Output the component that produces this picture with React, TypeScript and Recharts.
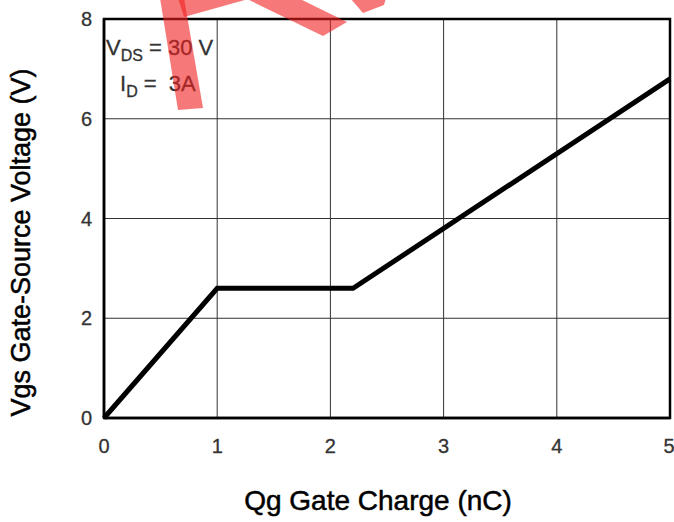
import { LineChart, Line, XAxis, YAxis, CartesianGrid, ReferenceArea } from "recharts"

const charge = [0, 1, 2.2, 5]
const vgs = [0, 2.6, 2.6, 6.8]
const xTicks = [0, 1, 2, 3, 4, 5]
const yTicks = [0, 2, 4, 6, 8]

const data = charge.map((q, i) => ({ q, v: vgs[i] }))

const FONT = "'Liberation Sans', Arial, sans-serif"

// red watermark bits that poke in at the top
const stamp = [
  "160,-2 184,-2 203,108 178,110",
  "178,-2 252,-2 184,17",
  "245,-2 298,-2 347,22 323,36",
  "350,-2 386,-2 384,5 363,13",
]

// axis label viewBox is the axis strip itself
function YTitle({ viewBox }: any) {
  const x = viewBox.x + 21
  const y = viewBox.y + viewBox.height / 2 + 24
  return (
    <text x={x} y={y} transform={`rotate(-90 ${x} ${y})`} textAnchor="middle" dominantBaseline="central"
      fontSize={27} fill="#000" stroke="#000" strokeWidth={0.5} fontFamily={FONT}>
      Vgs Gate-Source Voltage (V)
    </text>
  )
}

function XTitle({ viewBox }: any) {
  const x = viewBox.x + viewBox.width / 2 - 9
  const y = viewBox.y + 92
  return (
    <text x={x} y={y} textAnchor="middle" fontSize={28} fill="#000" stroke="#000" strokeWidth={0.5} fontFamily={FONT}>
      Qg Gate Charge (nC)
    </text>
  )
}

const tickStyle = { fontSize: 20, fill: "#333", stroke: "#333", strokeWidth: 0.3, fontFamily: FONT }

export default function App() {
  return (
    <div style={{ position: "absolute", left: 0, top: 0, width: 674, height: 522, background: "#fff", fontFamily: FONT }}>
      <LineChart width={674} height={522} data={data} margin={{ top: 19, right: 4, left: 0, bottom: 0 }}>
        <CartesianGrid stroke="#333" strokeWidth={1} />
        <XAxis
          dataKey="q"
          type="number"
          domain={[0, 5]}
          ticks={xTicks}
          height={104}
          tickLine={false}
          tickSize={0}
          tickMargin={21}
          axisLine={{ stroke: "#000", strokeWidth: 2.5 }}
          tick={tickStyle}
          label={<XTitle />}
        />
        <YAxis
          type="number"
          domain={[0, 8]}
          ticks={yTicks}
          width={104}
          tickLine={false}
          tickSize={0}
          tickMargin={12}
          axisLine={{ stroke: "#000", strokeWidth: 2.5 }}
          tick={tickStyle}
          label={<YTitle />}
        />
        <ReferenceArea x1={0} x2={5} y1={0} y2={8} fill="none" stroke="#000" strokeWidth={2.5} />
        <Line dataKey="v" stroke="#000" strokeWidth={5} dot={false} isAnimationActive={false} />
      </LineChart>
      <svg width={674} height={522} style={{ position: "absolute", left: 0, top: 0, pointerEvents: "none" }}>
        <text x={106} y={55} fontSize={22} fill="#333" stroke="#333" strokeWidth={0.3} fontFamily={FONT}>
          V<tspan fontSize={16} dy={6}>DS</tspan><tspan dy={-6}> = 30 V</tspan>
        </text>
        <text x={120} y={91} fontSize={22} fill="#333" stroke="#333" strokeWidth={0.3} fontFamily={FONT}>
          I<tspan fontSize={16} dy={6}>D</tspan><tspan dy={-6}> =</tspan><tspan dx={12}>3A</tspan>
        </text>
        {stamp.map((p, i) => (
          <polygon key={i} points={p} fill="#f01e1e" opacity={0.6} />
        ))}
      </svg>
    </div>
  )
}
